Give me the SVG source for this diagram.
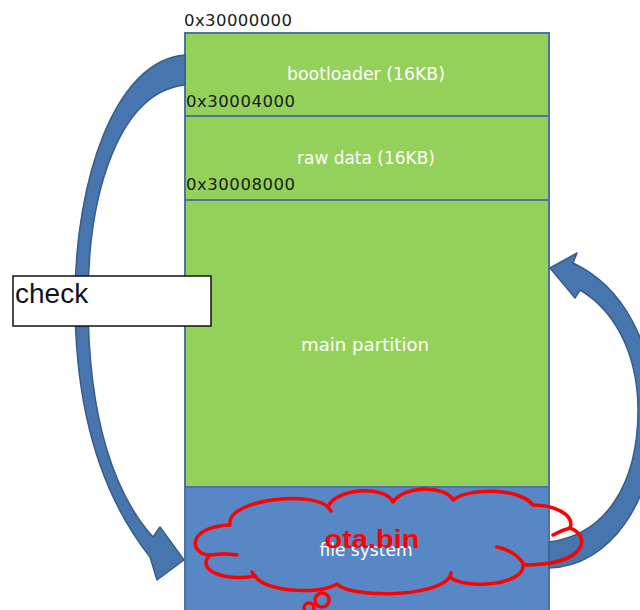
<svg xmlns="http://www.w3.org/2000/svg" width="640" height="610" viewBox="0 0 640 610">
<style>
.part{fill:#94d15a;stroke:#4f72a4;stroke-width:2}
.fs{fill:#5787c4;stroke:#4f72a4;stroke-width:2}
.lbl{font-family:"DejaVu Sans",Verdana,sans-serif;font-size:17px;fill:#ffffff;text-anchor:middle}
.addr{font-family:"DejaVu Sans",Verdana,sans-serif;font-size:16.5px;fill:#1a1a1a}
.arrow{fill:#4775ad;stroke:#385d8c;stroke-width:1.5;stroke-linejoin:round}
.cloud{fill:none;stroke:#ff0000;stroke-width:3.5;stroke-linecap:round;stroke-linejoin:round}
</style>
<rect width="640" height="610" fill="#ffffff"/>
<g id="bootloader">
<rect class="part" x="185" y="33" width="364" height="83"/>
<text class="lbl" x="366" y="80" textLength="158" lengthAdjust="spacingAndGlyphs">bootloader (16KB)</text>
</g>
<g id="raw-data">
<rect class="part" x="185" y="116" width="364" height="84"/>
<text class="lbl" x="366" y="164" textLength="138" lengthAdjust="spacingAndGlyphs">raw data (16KB)</text>
</g>
<g id="main-partition">
<rect class="part" x="185" y="200" width="364" height="287"/>
<text class="lbl" x="365" y="351" textLength="128" lengthAdjust="spacingAndGlyphs">main partition</text>
</g>
<g id="file-system">
<rect class="fs" x="185" y="487" width="364" height="130"/>
<text class="lbl" x="366" y="556" textLength="93" lengthAdjust="spacingAndGlyphs">file system</text>
</g>
<g id="addresses">
<text class="addr" x="184" y="26" textLength="108" lengthAdjust="spacing">0x30000000</text>
<text class="addr" x="186" y="107" textLength="109" lengthAdjust="spacing">0x30004000</text>
<text class="addr" x="186" y="190" textLength="109" lengthAdjust="spacing">0x30008000</text>
</g>
<g id="connectors">
<path class="arrow" d="M185,55 C115,60 75,180 75,300 C75,420 105,500 150,557 L157,580 L184,560 L160,527 L153,537 C115,495 88,420 88,300 C88,190 120,92 185,85 Z"/>
<path class="arrow" d="M549,542 C605,535 638,485 638,410 C638,365 622,315 580,290 L575,298 L550,268 L577,253 L573,263 C620,285 655,340 655,420 C655,500 610,567 549,568 Z"/>
</g>
<g id="check">
<rect x="13" y="276" width="198" height="50" fill="#ffffff" stroke="#111111" stroke-width="1.5"/>
<text x="15" y="303" font-family="Liberation Sans, Arial, sans-serif" font-size="28" fill="#111122">check</text>
</g>
<g id="ota-cloud">
<path class="cloud" d="M210,555 C190,555 185,527 230,525 C225,500 310,490 328,507 C335,488 385,485 393,502 C405,485 445,485 453,500 C470,487 520,488 533,505 C555,505 575,515 570,528 C590,535 590,565 523,565 C525,585 465,590 450,577 C435,598 350,598 337,584 C320,595 265,592 255,576 C225,582 195,570 210,555 Z"/>
<path class="cloud" d="M210,555 Q225,553 237,555 M497,547 Q515,551 523,563 M553,535 Q562,530 570,528 M328,507 L331,511 M255,576 L252,572 M450,577 L451,573"/>
<circle class="cloud" cx="322" cy="600" r="7"/>
<circle class="cloud" cx="309" cy="608" r="5"/>
<text x="372" y="548" font-family="Liberation Sans, Arial, sans-serif" font-size="25" font-weight="bold" fill="#ff0000" text-anchor="middle" textLength="95" lengthAdjust="spacingAndGlyphs">ota.bin</text>
</g>
</svg>
